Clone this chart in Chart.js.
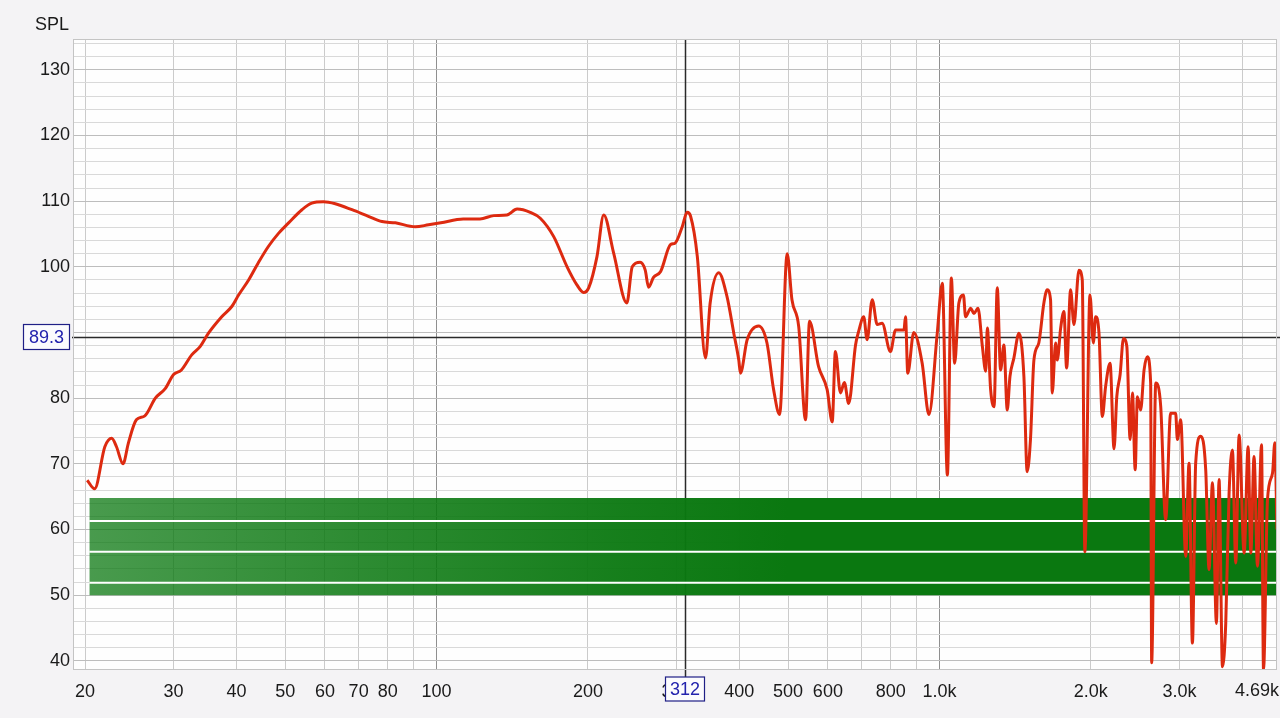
<!DOCTYPE html>
<html>
<head>
<meta charset="utf-8">
<script src="https://cdn.jsdelivr.net/npm/chart.js@4.4.1/dist/chart.umd.min.js"></script>
<style>
html, body { margin: 0; padding: 0; background: #f4f3f5; }
#wrap { position: relative; width: 1280px; height: 718px; }
</style>
</head>
<body>
<div id="wrap"><canvas id="spl" width="1280" height="718"></canvas></div>
<script>
// measured response (Hz / dB)
const freqs = [20.2, 20.9, 21.9, 22.6, 23.1, 23.8, 24.4, 25.3, 26.3, 27.6, 28.9, 30.0, 31.1, 32.6, 33.9, 35.2, 37.4, 39.2, 40.4, 42.3,
  44.2, 46.3, 48.5, 50.8, 54.0, 56.5, 59.6, 62.9, 67.9, 73.2, 77.9, 82.8, 90.7, 96.4, 102, 113, 122, 130, 138, 144.6,
  153.6, 160.8, 171, 181.8, 190, 196, 200.7, 208.5, 215, 225, 239, 245, 254, 260, 264, 270, 279, 292, 298, 308,
  315, 320, 330, 342.6, 350, 364, 378, 390, 399, 402, 414.6, 437, 454, 468, 481, 498, 509, 525, 541.7, 551.6,
  575, 598, 612, 621, 635.6, 647, 660, 681, 691, 707, 718, 735, 752, 769, 799, 818, 850, 856, 865, 889,
  924, 953, 990, 1013, 1037, 1056, 1072, 1093, 1116, 1127, 1154, 1171, 1193, 1217, 1236, 1245, 1264, 1284, 1303, 1323,
  1343, 1364, 1381, 1406, 1439, 1472, 1494, 1517, 1541, 1576, 1613, 1638, 1663, 1676, 1702, 1715, 1742, 1768, 1790, 1823,
  1851, 1894, 1923, 1946, 1992, 2023, 2044, 2076, 2108, 2140, 2184, 2224, 2252, 2287, 2322, 2358, 2394, 2420, 2450, 2475,
  2512, 2552, 2590, 2630, 2642, 2692, 2754, 2817, 2882, 2949, 2972, 3018, 3088, 3135, 3184, 3232, 3308, 3384, 3436, 3490,
  3554, 3597, 3654, 3709, 3766, 3824, 3883, 3943, 4035, 4109, 4160, 4222, 4289, 4369, 4409, 4490, 4595, 4643, 4690];
const spl = [67.5, 66.2, 72.6, 73.9, 72.6, 70.0, 73.2, 76.7, 77.3, 80.0, 81.5, 83.6, 84.3, 86.6, 87.9, 89.9, 92.4, 94.0, 95.7, 98.0,
  100.6, 103.1, 105.1, 106.7, 108.7, 109.7, 109.9, 109.6, 108.7, 107.7, 106.9, 106.7, 106.1, 106.4, 106.7, 107.3, 107.3, 107.8, 107.9, 108.8,
  108.3, 107.4, 104.6, 100.0, 97.3, 96.1, 96.8, 101.6, 107.9, 102.1, 94.5, 100.0, 100.7, 99.5, 96.9, 98.4, 99.3, 103.4, 103.6, 106.1,
  108.3, 107.7, 101.6, 86.1, 94.5, 99.1, 95.5, 89.9, 85.8, 83.8, 88.9, 91.0, 88.4, 81.3, 77.5, 102.0, 95.0, 90.9, 76.7, 91.7,
  84.8, 81.3, 76.4, 87.1, 80.8, 82.4, 79.2, 88.1, 90.2, 92.4, 88.9, 95.0, 91.2, 91.4, 87.1, 90.4, 90.4, 92.4, 83.8, 90.0,
  85.3, 77.5, 89.9, 97.5, 68.3, 98.3, 85.3, 94.5, 95.7, 92.4, 93.7, 92.9, 93.7, 87.9, 84.1, 90.7, 81.3, 78.7, 96.8, 84.3,
  88.1, 78.2, 83.3, 86.1, 89.9, 83.3, 68.8, 73.7, 85.8, 88.4, 94.5, 96.5, 95.0, 80.8, 88.4, 85.8, 90.7, 93.2, 84.6, 96.5,
  91.2, 99.5, 98.0, 56.6, 95.7, 88.4, 92.4, 89.9, 77.2, 81.8, 85.3, 72.3, 80.2, 83.6, 89.1, 87.9, 73.7, 80.8, 69.1, 80.2,
  78.2, 84.3, 86.3, 82.3, 39.7, 82.3, 78.7, 61.5, 77.7, 77.7, 73.7, 76.7, 55.9, 70.1, 42.7, 70.1, 74.2, 69.1, 53.9, 67.1,
  45.7, 67.6, 39.1, 45.7, 65.5, 72.1, 54.9, 74.4, 56.4, 72.6, 56.4, 71.1, 54.4, 72.9, 38.6, 64.5, 68.6, 73.2, 60.0];

// green band (50..64.8 dB) with white gaps
const bandFreqs = [20.4, 4690];
const bandTop = [64.8, 64.8];
const bandBottom = [50, 50];
const gapLevels = [61.3, 56.6, 51.9];

// axes
const xGrid = [20, 30, 40, 50, 60, 70, 80, 90, 100, 200, 300, 400, 500, 600, 700, 800, 900, 1000, 2000, 3000, 4000];
const xLabels = { 20: '20', 30: '30', 40: '40', 50: '50', 60: '60', 70: '70', 80: '80', 100: '100', 200: '200', 300: '300',
  400: '400', 500: '500', 600: '600', 800: '800', 1000: '1.0k', 2000: '2.0k', 3000: '3.0k' };
const xEndLabel = '4.69k';
const yLabels = [40, 50, 60, 70, 80, 90, 100, 110, 120, 130];
const cursorFreq = 312;
const cursorSpl = 89.3;

const FONT = 'Liberation Sans, Arial, sans-serif';
const green = 'rgb(10,120,16)';

function pts(xs, ys) {
  return xs.map((x, i) => ({ x: x, y: ys[i] }));
}

function bandFill(c) {
  const chart = c.chart;
  if (!chart.chartArea) return green;
  const xs = chart.scales.x;
  const g = chart.ctx.createLinearGradient(xs.getPixelForValue(20), 0, xs.getPixelForValue(500), 0);
  g.addColorStop(0, 'rgba(10,120,16,0.74)');
  g.addColorStop(0.4, 'rgba(10,120,16,0.86)');
  g.addColorStop(0.75, 'rgba(10,120,16,0.95)');
  g.addColorStop(1, green);
  return g;
}

const frame = {
  id: 'frame',
  beforeDraw(chart) {
    const { ctx, chartArea: a } = chart;
    ctx.save();
    ctx.fillStyle = '#f4f3f5';
    ctx.fillRect(0, 0, chart.width, chart.height);
    ctx.fillStyle = '#fefefe';
    ctx.fillRect(a.left, a.top, a.right - a.left, a.bottom - a.top);
    ctx.restore();
  },
  beforeDatasetsDraw(chart) {
    const { ctx, chartArea: a, scales } = chart;
    const cx = Math.round(scales.x.getPixelForValue(cursorFreq)) + 0.5;
    const cy = Math.round(scales.y.getPixelForValue(cursorSpl)) + 0.5;
    ctx.save();
    ctx.strokeStyle = '#2a2a2a';
    ctx.lineWidth = 1.5;
    ctx.beginPath();
    ctx.moveTo(cx, a.top);
    ctx.lineTo(cx, a.bottom);
    ctx.moveTo(a.left, cy);
    ctx.lineTo(chart.width, cy);
    ctx.stroke();
    ctx.restore();
  },
  afterDraw(chart) {
    const { ctx, chartArea: a, scales } = chart;
    const cx = Math.round(scales.x.getPixelForValue(cursorFreq)) + 0.5;
    const cy = Math.round(scales.y.getPixelForValue(cursorSpl)) + 0.5;
    ctx.save();
    // plot border
    ctx.strokeStyle = '#c4c4c4';
    ctx.lineWidth = 1;
    ctx.strokeRect(a.left + 0.5, a.top + 0.5, a.right - a.left - 1, a.bottom - a.top - 1);

    ctx.font = '18px ' + FONT;
    ctx.fillStyle = '#1a1a1a';
    ctx.textBaseline = 'alphabetic';
    ctx.textAlign = 'left';
    ctx.fillText('SPL', 35, 30);

    // right end label
    ctx.textAlign = 'right';
    ctx.textBaseline = 'top';
    ctx.fillText(xEndLabel, chart.width - 1, a.bottom + 12);

    // cursor line down to the box
    ctx.strokeStyle = '#2a2a2a';
    ctx.lineWidth = 1.5;
    ctx.beginPath();
    ctx.moveTo(cx, a.bottom);
    ctx.lineTo(cx, a.bottom + 8);
    ctx.moveTo(a.left - 4, cy);
    ctx.lineTo(a.left, cy);
    ctx.stroke();

    // cursor readout boxes (they hide the ticks underneath)
    ctx.lineWidth = 1.2;
    ctx.strokeStyle = '#1f1f86';
    ctx.fillStyle = '#fbfbfd';
    const xb = { l: cx - 20, t: a.bottom + 7, w: 39, h: 24 };
    ctx.fillRect(xb.l, xb.t, xb.w, xb.h);
    ctx.strokeRect(xb.l, xb.t, xb.w, xb.h);
    ctx.fillStyle = '#f4f3f5';
    ctx.fillRect(20, cy - 16, 52, 32);
    ctx.fillStyle = '#fbfbfd';
    const yb = { l: 23.5, t: cy - 13, w: 46, h: 25 };
    ctx.fillRect(yb.l, yb.t, yb.w, yb.h);
    ctx.strokeRect(yb.l, yb.t, yb.w, yb.h);
    ctx.fillStyle = '#2323ad';
    ctx.textAlign = 'center';
    ctx.textBaseline = 'middle';
    ctx.fillText(String(cursorFreq), xb.l + xb.w / 2, xb.t + xb.h / 2 + 1);
    ctx.fillText(cursorSpl.toFixed(1), yb.l + yb.w / 2, yb.t + yb.h / 2 + 1);
    ctx.restore();
  }
};

const datasets = [
  {
    data: pts(freqs, spl),
    borderColor: '#dd2a10',
    borderWidth: 3,
    cubicInterpolationMode: 'monotone',
    pointRadius: 0,
    fill: false
  }
];
gapLevels.forEach(v => {
  datasets.push({
    data: pts(bandFreqs, bandFreqs.map(() => v)),
    borderColor: '#ffffff',
    borderWidth: 2,
    pointRadius: 0,
    fill: false
  });
});
datasets.push({
  data: pts(bandFreqs, bandTop),
  borderWidth: 0,
  borderColor: 'rgba(0,0,0,0)',
  backgroundColor: bandFill,
  pointRadius: 0,
  fill: '+1'
});
datasets.push({
  data: pts(bandFreqs, bandBottom),
  borderWidth: 0,
  borderColor: 'rgba(0,0,0,0)',
  pointRadius: 0,
  fill: false
});

new Chart(document.getElementById('spl').getContext('2d'), {
  type: 'line',
  data: { datasets: datasets },
  plugins: [frame],
  options: {
    responsive: false,
    animation: false,
    devicePixelRatio: 1,
    layout: { padding: { left: 0, right: 3, top: 39, bottom: 0 } },
    plugins: { legend: { display: false }, tooltip: { enabled: false } },
    scales: {
      x: {
        type: 'logarithmic',
        min: 18.93,
        max: 4690,
        afterBuildTicks: s => { s.ticks = xGrid.map(v => ({ value: v })); },
        afterFit: s => { s.height = 48; },
        border: { display: false },
        grid: {
          drawTicks: false,
          color: c => (c.tick && (c.tick.value === 100 || c.tick.value === 1000)) ? '#8f8f8f' : '#cbcbcb',
          lineWidth: 1
        },
        ticks: {
          autoSkip: false,
          maxRotation: 0,
          padding: 11,
          color: '#1a1a1a',
          font: { family: FONT, size: 18 },
          callback: v => xLabels[v] || ''
        }
      },
      y: {
        min: 38.6,
        max: 134.7,
        afterBuildTicks: s => {
          const t = [];
          for (let v = 40; v <= 134; v += 2) t.push({ value: v });
          s.ticks = t;
        },
        afterFit: s => { s.width = 73; },
        border: { display: false },
        grid: {
          drawTicks: false,
          color: c => (c.tick && c.tick.value % 10 === 0) ? '#bdbdbd' : '#d9d9d9',
          lineWidth: 1
        },
        ticks: {
          autoSkip: false,
          padding: 3,
          color: '#1a1a1a',
          font: { family: FONT, size: 18 },
          callback: v => yLabels.includes(v) ? String(v) : ''
        }
      }
    }
  }
});
</script>
</body>
</html>
